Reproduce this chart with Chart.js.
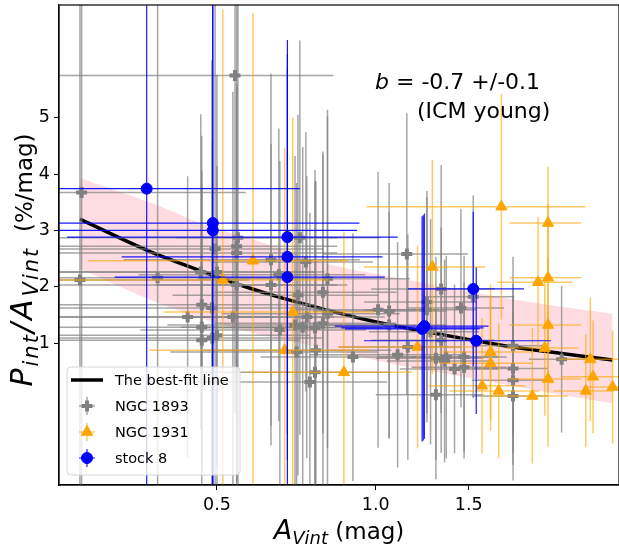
<!DOCTYPE html>
<html>
<head>
<meta charset="utf-8">
<script src="https://cdn.jsdelivr.net/npm/chart.js@4.4.1/dist/chart.umd.min.js"></script>
<style>
  body { margin: 0; background: #fff; }
  canvas { display: block; }
</style>
</head>
<body>
<canvas id="chart" width="619" height="550"></canvas>
<script>
// NGC 1893 (grey plus markers)
const ngc1893A = [0.277, 0.275, 0.541, 0.386, 0.466, 0.500, 0.496, 0.545, 0.548, 0.545,
  0.633, 0.718, 0.737, 0.655, 0.545, 0.633, 0.712, 0.468, 0.489, 0.440,
  0.536, 0.468, 0.468, 0.490, 0.500, 0.658, 0.703, 0.727, 0.767, 0.740,
  0.708, 0.770, 0.767, 0.750, 0.810, 0.794, 0.810, 1.145, 1.330, 0.794,
  1.010, 1.060, 1.250, 1.250, 1.450, 1.060, 1.330, 1.150, 0.905, 1.100,
  1.360, 1.470, 1.530, 1.270, 1.820, 2.250, 1.300, 1.350, 1.410, 1.470,
  1.820, 1.820, 1.820, 1.300];
const ngc1893P = [3.67, 2.12, 5.75, 2.16, 2.26, 2.26, 2.67, 2.72, 2.87, 2.60,
  2.48, 2.87, 2.44, 2.21, 2.03, 2.03, 1.85, 1.68, 1.62, 1.46,
  1.46, 1.28, 1.05, 1.09, 1.14, 1.23, 1.32, 1.28, 1.27, 1.46,
  0.84, 0.87, 0.48, 0.31, 2.14, 1.35, 1.52, 2.58, 1.96, 1.90,
  1.59, 1.57, 1.73, 1.59, 1.62, 1.32, 1.05, 0.93, 0.75, 0.79,
  0.75, 0.75, 1.82, 1.20, 0.95, 0.71, 0.73, 0.68, 0.54, 0.57,
  0.55, 0.34, 0.06, 0.08];
const ngc1893Aerr = [0.29, 0.30, 0.29, 0.25, 0.30, 0.30, 0.30, 0.30, 0.30, 0.30,
  0.30, 0.30, 0.25, 0.30, 0.30, 0.25, 0.30, 0.30, 0.30, 0.20,
  0.30, 0.25, 0.25, 0.30, 0.25, 0.30, 0.30, 0.30, 0.30, 0.30,
  0.30, 0.30, 0.30, 0.30, 0.35, 0.30, 0.30, 0.35, 0.35, 0.30,
  0.30, 0.30, 0.30, 0.30, 0.30, 0.30, 0.35, 0.30, 0.30, 0.35,
  0.35, 0.30, 0.30, 0.30, 0.30, 0.30, 0.30, 0.30, 0.30, 0.30,
  0.30, 0.30, 0.30, 0.30];
const ngc1893Perr = [5.5, 5.5, 6.0, 5.0, 2.8, 3.5, 5.0, 4.5, 4.5, 3.0,
  3.3, 3.5, 2.3, 2.6, 3.5, 2.5, 3.2, 3.0, 4.4, 2.5,
  4.0, 2.5, 3.0, 3.5, 3.0, 3.0, 3.0, 3.2, 2.8, 2.5,
  3.0, 3.0, 3.4, 3.0, 3.0, 3.0, 3.5, 2.5, 2.2, 2.5,
  2.45, 2.27, 1.97, 2.0, 1.76, 2.0, 2.0, 2.0, 2.2, 2.0,
  1.8, 1.8, 1.8, 2.0, 1.58, 1.3, 1.8, 1.8, 1.5, 1.5,
  1.5, 1.5, 1.5, 1.5];

// NGC 1931 (orange triangles)
const ngc1931A = [0.585, 0.513, 0.696, 0.672, 1.28, 1.20, 0.87, 1.73, 2.12, 2.03,
  2.12, 2.12, 1.65, 2.09, 2.55, 1.65, 1.59, 1.71, 1.98, 2.12,
  2.50, 2.58, 2.81];
const ngc1931P = [2.46, 2.12, 1.55, 0.87, 2.35, 0.93, 0.48, 3.42, 3.13, 2.08,
  2.16, 1.32, 0.84, 0.91, 0.71, 0.64, 0.24, 0.15, 0.06, 0.36,
  0.15, 0.40, 0.22];
const ngc1931Aerr = [0.30, 0.30, 0.30, 0.30, 0.33, 0.35, 0.30, 0.77, 0.33, 0.33,
  0.33, 0.33, 0.33, 0.33, 0.33, 0.33, 0.33, 0.33, 0.33, 0.33,
  0.33, 0.33, 0.33];
const ngc1931Perr = [4.4, 4.8, 3.45, 3.6, 1.9, 1.8, 2.5, 2.0, 1.0, 1.16,
  1.3, 1.2, 1.2, 1.2, 1.1, 1.2, 1.2, 1.2, 1.2, 1.2,
  1.0, 1.0, 1.0];

// Stock 8 (blue circles)
const stock8A = [0.368, 0.491, 0.491, 0.680, 0.680, 0.680, 1.23, 1.236, 1.224, 1.53, 1.55];
const stock8P = [3.74, 3.13, 3.00, 2.88, 2.53, 2.17, 1.27, 1.30, 1.25, 1.96, 1.04];
const stock8Aerr = [0.35, 0.44, 0.43, 0.42, 0.35, 0.36, 0.37, 0.40, 0.35, 0.38, 0.60];
const stock8Perr = [5.5, 5.5, 5.5, 3.5, 3.6, 3.7, 2.0, 2.0, 2.0, 1.37, 1.3];

// best-fit line and its confidence band
const fitA = [0.275, 0.368, 0.46, 0.57, 0.658, 0.783, 0.974, 1.23, 1.506, 1.82, 2.23, 2.81];
const fitP = [3.20, 2.65, 2.30, 1.99, 1.81, 1.62, 1.40, 1.21, 1.06, 0.93, 0.82, 0.70];
const bandA = [0.275, 0.385, 0.464, 0.603, 0.783, 1.11, 1.506, 2.04, 2.81];
const bandHi = [3.93, 3.45, 3.13, 2.80, 2.44, 2.15, 1.91, 1.70, 1.52];
const bandLo = [2.32, 1.72, 1.45, 1.15, 0.92, 0.60, 0.38, 0.15, -0.07];

const xTicks = [0.5, 1.0, 1.5];
const yTicks = [1, 2, 3, 4, 5];

const FONT = 'DejaVu Sans';
Chart.defaults.font.family = FONT;
Chart.defaults.color = '#000';

function pts (xs, ys) {
  return xs.map((v, i) => ({ x: v, y: ys[i] }));
}

// error bars, drawn right before each scatter dataset's markers
const errorBars = {
  id: 'errorBars',
  beforeDatasetDraw (chart, args) {
    const ds = chart.data.datasets[args.index];
    if (!ds.xErr) return;
    const { ctx, chartArea: a, scales: { x, y } } = chart;
    ctx.save();
    ctx.beginPath();
    ctx.rect(a.left, a.top, a.right - a.left, a.bottom - a.top);
    ctx.clip();
    ctx.strokeStyle = ds.errColor;
    ctx.lineWidth = ds.errWidth;
    ds.data.forEach((p, i) => {
      const px = x.getPixelForValue(p.x);
      const py = y.getPixelForValue(p.y);
      const lo = Math.max(p.x - ds.xErr[i], x.min * 0.5);
      ctx.beginPath();
      ctx.moveTo(x.getPixelForValue(lo), py);
      ctx.lineTo(x.getPixelForValue(p.x + ds.xErr[i]), py);
      ctx.stroke();
      ctx.beginPath();
      ctx.moveTo(px, y.getPixelForValue(p.y - ds.yErr[i]));
      ctx.lineTo(px, y.getPixelForValue(p.y + ds.yErr[i]));
      ctx.stroke();
    });
    ctx.restore();
  }
};

// text runs with italic / subscript parts, optional extra letter spacing
function setFont (ctx, p) {
  ctx.font = (p.italic ? 'italic ' : '') + p.size + 'px "' + FONT + '"';
}

function runWidth (ctx, parts) {
  let w = 0;
  parts.forEach(p => {
    setFont(ctx, p);
    for (const ch of p.t) w += ctx.measureText(ch).width + (p.sp || 0);
  });
  return w;
}

function drawRun (ctx, parts, x, y) {
  parts.forEach(p => {
    setFont(ctx, p);
    for (const ch of p.t) {
      ctx.fillText(ch, x, y + (p.dy || 0));
      x += ctx.measureText(ch).width + (p.sp || 0);
    }
  });
}

const decorations = {
  id: 'decorations',
  afterDraw (chart) {
    const { ctx, chartArea: a } = chart;
    ctx.save();
    // frame
    ctx.strokeStyle = '#000';
    ctx.lineWidth = 1.2;
    ctx.strokeRect(a.left, a.top, a.right - a.left, a.bottom - a.top);

    ctx.fillStyle = '#000';
    ctx.textBaseline = 'alphabetic';
    ctx.textAlign = 'left';

    // x title
    const xt = [
      { t: 'A', size: 27, italic: true },
      { t: 'Vint', size: 18, italic: true, dy: 5 },
      { t: ' (mag)', size: 23 }
    ];
    drawRun(ctx, xt, (a.left + a.right) / 2 - runWidth(ctx, xt) / 2, 539);

    // y title
    const yt = [
      { t: 'P', size: 30, italic: true, sp: 2 },
      { t: 'int', size: 21, italic: true, dy: 6, sp: 2 },
      { t: '/A', size: 30, italic: true, sp: 3 },
      { t: 'Vint', size: 21, italic: true, dy: 6, sp: 2 },
      { t: '  (%/mag)', size: 23 }
    ];
    ctx.save();
    ctx.translate(32, 260);
    ctx.rotate(-Math.PI / 2);
    drawRun(ctx, yt, -runWidth(ctx, yt) / 2, 0);
    ctx.restore();

    // slope annotation
    drawRun(ctx, [{ t: 'b', size: 22, italic: true }, { t: ' = -0.7 +/-0.1', size: 22 }], 375, 89);
    drawRun(ctx, [{ t: '(ICM young)', size: 22 }], 417, 118);

    // legend
    const bx = 67, by = 367, bw = 173, bh = 108;
    ctx.beginPath();
    ctx.roundRect(bx, by, bw, bh, 4);
    ctx.fillStyle = 'rgba(255,255,255,0.8)';
    ctx.fill();
    ctx.strokeStyle = '#d6d6d6';
    ctx.lineWidth = 1;
    ctx.stroke();

    const ds = chart.data.datasets;
    const rows = [ds[3], ds[2], ds[1], ds[0]];
    ctx.font = '14.5px "' + FONT + '"';
    ctx.textBaseline = 'middle';
    rows.forEach((d, i) => {
      const cy = by + 13 + i * 26;
      const cx = 87;
      if (i === 0) {
        ctx.strokeStyle = d.borderColor;
        ctx.lineWidth = d.borderWidth;
        ctx.beginPath();
        ctx.moveTo(71, cy);
        ctx.lineTo(103, cy);
        ctx.stroke();
      } else {
        ctx.strokeStyle = d.errColor;
        ctx.lineWidth = d.errWidth;
        ctx.beginPath();
        ctx.moveTo(cx - 8, cy);
        ctx.lineTo(cx + 8, cy);
        ctx.moveTo(cx, cy - 9);
        ctx.lineTo(cx, cy + 9);
        ctx.stroke();
        ctx.strokeStyle = d.borderColor;
        ctx.fillStyle = d.backgroundColor;
        ctx.lineWidth = d.borderWidth;
        Chart.helpers.drawPoint(ctx, {
          pointStyle: d.pointStyle, radius: d.pointRadius, borderWidth: d.borderWidth, rotation: 0
        }, cx, cy);
      }
      ctx.fillStyle = '#000';
      ctx.fillText(d.label, 115, cy + 1);
    });
    ctx.restore();
  }
};

const chart = new Chart(document.getElementById('chart'), {
  type: 'scatter',
  data: {
    datasets: [
      {
        label: 'stock 8',
        data: pts(stock8A, stock8P),
        xErr: stock8Aerr, yErr: stock8Perr,
        errColor: 'rgba(0,0,255,0.9)', errWidth: 1.2,
        pointStyle: 'circle', pointRadius: 5.5,
        backgroundColor: '#0000ff', borderColor: '#0000ff', borderWidth: 1
      },
      {
        label: 'NGC 1931',
        data: pts(ngc1931A, ngc1931P),
        xErr: ngc1931Aerr, yErr: ngc1931Perr,
        errColor: 'rgba(255,165,0,0.6)', errWidth: 1.5,
        pointStyle: 'triangle', pointRadius: 6.5,
        backgroundColor: '#ffa500', borderColor: '#ffa500', borderWidth: 1
      },
      {
        label: 'NGC 1893',
        data: pts(ngc1893A, ngc1893P),
        xErr: ngc1893Aerr, yErr: ngc1893Perr,
        errColor: 'rgba(128,128,128,0.7)', errWidth: 1.5,
        pointStyle: 'cross', pointRadius: 5.5,
        backgroundColor: '#808080', borderColor: '#808080', borderWidth: 4
      },
      {
        type: 'line',
        label: 'The best-fit line',
        data: pts(fitA, fitP),
        borderColor: '#000', borderWidth: 3.5,
        pointRadius: 0, cubicInterpolationMode: 'monotone', fill: false
      },
      {
        type: 'line',
        label: 'band upper',
        data: pts(bandA, bandHi),
        borderWidth: 0, borderColor: 'rgba(0,0,0,0)', pointRadius: 0,
        cubicInterpolationMode: 'monotone',
        fill: '+1', backgroundColor: 'rgba(255,192,203,0.55)'
      },
      {
        type: 'line',
        label: 'band lower',
        data: pts(bandA, bandLo),
        borderWidth: 0, borderColor: 'rgba(0,0,0,0)', pointRadius: 0,
        cubicInterpolationMode: 'monotone', fill: false
      }
    ]
  },
  options: {
    responsive: false,
    animation: false,
    devicePixelRatio: 1,
    events: [],
    layout: { autoPadding: false, padding: { top: 5, left: 0, right: 0, bottom: 0 } },
    plugins: { legend: { display: false }, tooltip: { enabled: false } },
    scales: {
      x: {
        type: 'logarithmic',
        min: 0.251,
        max: 2.89,
        afterBuildTicks: s => { s.ticks = xTicks.map(v => ({ value: v })); },
        afterFit: s => { s.height = 65; s.paddingLeft = 0; s.paddingRight = 0; },
        ticks: {
          font: { size: 17.5 }, color: '#000', padding: 5,
          maxRotation: 0, autoSkip: false,
          callback: v => Number(v).toFixed(1)
        },
        grid: { drawOnChartArea: false, drawTicks: true, tickLength: 5, color: '#000' },
        border: { display: true, color: '#000', width: 1.2 }
      },
      y: {
        type: 'linear',
        min: -1.52,
        max: 7.0,
        afterBuildTicks: s => { s.ticks = yTicks.map(v => ({ value: v })); },
        afterFit: s => { s.width = 59; s.paddingTop = 0; s.paddingBottom = 0; },
        ticks: { font: { size: 17.5 }, color: '#000', padding: 4, autoSkip: false },
        grid: { drawOnChartArea: false, drawTicks: true, tickLength: 5, color: '#000' },
        border: { display: true, color: '#000', width: 1.2 }
      }
    }
  },
  plugins: [errorBars, decorations]
});
</script>
</body>
</html>
